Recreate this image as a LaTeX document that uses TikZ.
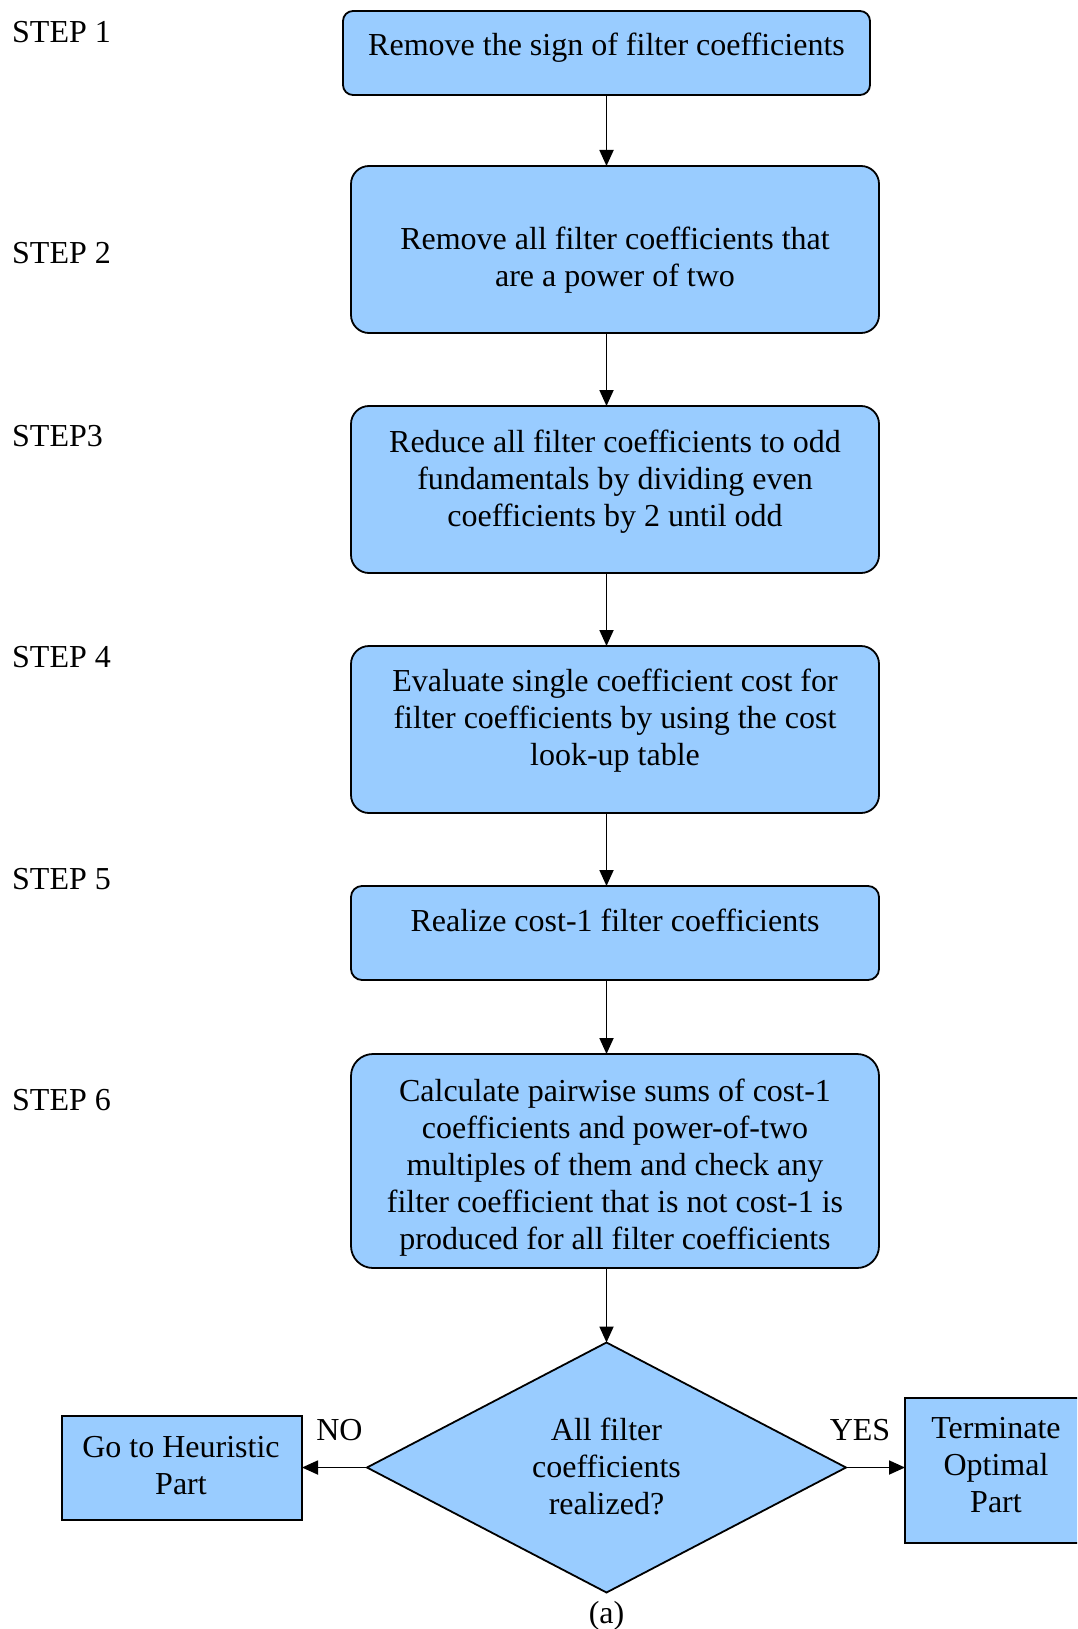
\documentclass[tikz,border=0pt]{standalone}
\usepackage{fontspec}
\setmainfont{Liberation Serif}
\usetikzlibrary{arrows.meta,shapes.geometric}
\definecolor{boxblue}{RGB}{153,204,255}
\begin{document}
\begin{tikzpicture}[x=1pt,y=-1pt,
  box/.style={draw=black, line width=1.8pt, fill=boxblue, inner sep=0pt, outer sep=0pt, minimum width=528pt},
  txt/.style={font=\fontsize{32}{37}\selectfont, align=center, inner sep=0pt},
  lbl/.style={font=\fontsize{32}{37}\selectfont, anchor=west, inner sep=0pt},
  arr/.style={line width=1.8pt, -{Triangle[length=16pt,width=14pt]}}]
\clip (0,0) rectangle (1077,1629);
\fill[white] (0,0) rectangle (1077,1629);
\coordinate (ax) at (606.5,0);
% boxes
\node[box, rounded corners=10pt, minimum width=527pt, minimum height=84pt] (b1) at (606.5,53) {};
\node[box, rounded corners=18pt, minimum height=167pt] (b2) at (615,249.5) {};
\node[box, rounded corners=18pt, minimum height=167pt] (b3) at (615,489.5) {};
\node[box, rounded corners=18pt, minimum height=167pt] (b4) at (615,729.5) {};
\node[box, rounded corners=11pt, minimum height=94pt] (b5) at (615,933) {};
\node[box, rounded corners=22pt, minimum height=214pt] (b6) at (615,1161) {};
\node[box, shape=diamond, minimum width=479pt, minimum height=250pt] (d) at (606.5,1467.5) {};
\node[box, minimum width=240pt, minimum height=104pt] (lb) at (182,1468) {};
\node[box, minimum width=182pt, minimum height=145pt] (rb) at (996,1470.5) {};
% texts
\node[txt] (t1) at (606.5,47.5) {Remove the sign of filter coefficients};
\node[txt] (t2) at (615,260.5) {Remove all filter coefficients that\\are a power of two};
\node[txt] (t3) at (615,481.5) {Reduce all filter coefficients to odd\\fundamentals by dividing even\\coefficients by 2 until odd};
\node[txt] (t4) at (615,721) {Evaluate single coefficient cost for\\filter coefficients by using the cost\\look-up table};
\node[txt] (t5) at (615,920.5) {Realize cost-1 filter coefficients};
\node[txt] (t6) at (615,1168) {Calculate pairwise sums of cost-1\\coefficients and power-of-two\\multiples of them and check any\\filter coefficient that is not cost-1 is\\produced for all filter coefficients};
\node[txt] (td) at (606.5,1466.5) {All filter\\coefficients\\realized?};
\node[txt] (tl) at (181,1465.5) {Go to Heuristic\\Part};
\node[txt] (tr) at (996,1465) {Terminate\\Optimal\\Part};
\node[txt] (no) at (339.5,1430) {NO};
\node[txt] (yes) at (860,1430) {YES};
\node[txt] (cap) at (606.5,1616) {(a)};
% step labels
\node[lbl] (s1) at (12,32) {STEP 1};
\node[lbl] (s2) at (12,253) {STEP 2};
\node[lbl] (s3) at (12,436) {STEP3};
\node[lbl] (s4) at (12,657) {STEP 4};
\node[lbl] (s5) at (12,879) {STEP 5};
\node[lbl] (s6) at (12,1100) {STEP 6};
% arrows
\draw[arr] (ax |- b1.south) -- (ax |- b2.north);
\draw[arr] (ax |- b2.south) -- (ax |- b3.north);
\draw[arr] (ax |- b3.south) -- (ax |- b4.north);
\draw[arr] (ax |- b4.south) -- (ax |- b5.north);
\draw[arr] (ax |- b5.south) -- (ax |- b6.north);
\draw[arr] (ax |- b6.south) -- (d.north);
\draw[arr] (d.west) -- (d.west -| lb.east);
\draw[arr] (d.east) -- (d.east -| rb.west);
\end{tikzpicture}
\end{document}
